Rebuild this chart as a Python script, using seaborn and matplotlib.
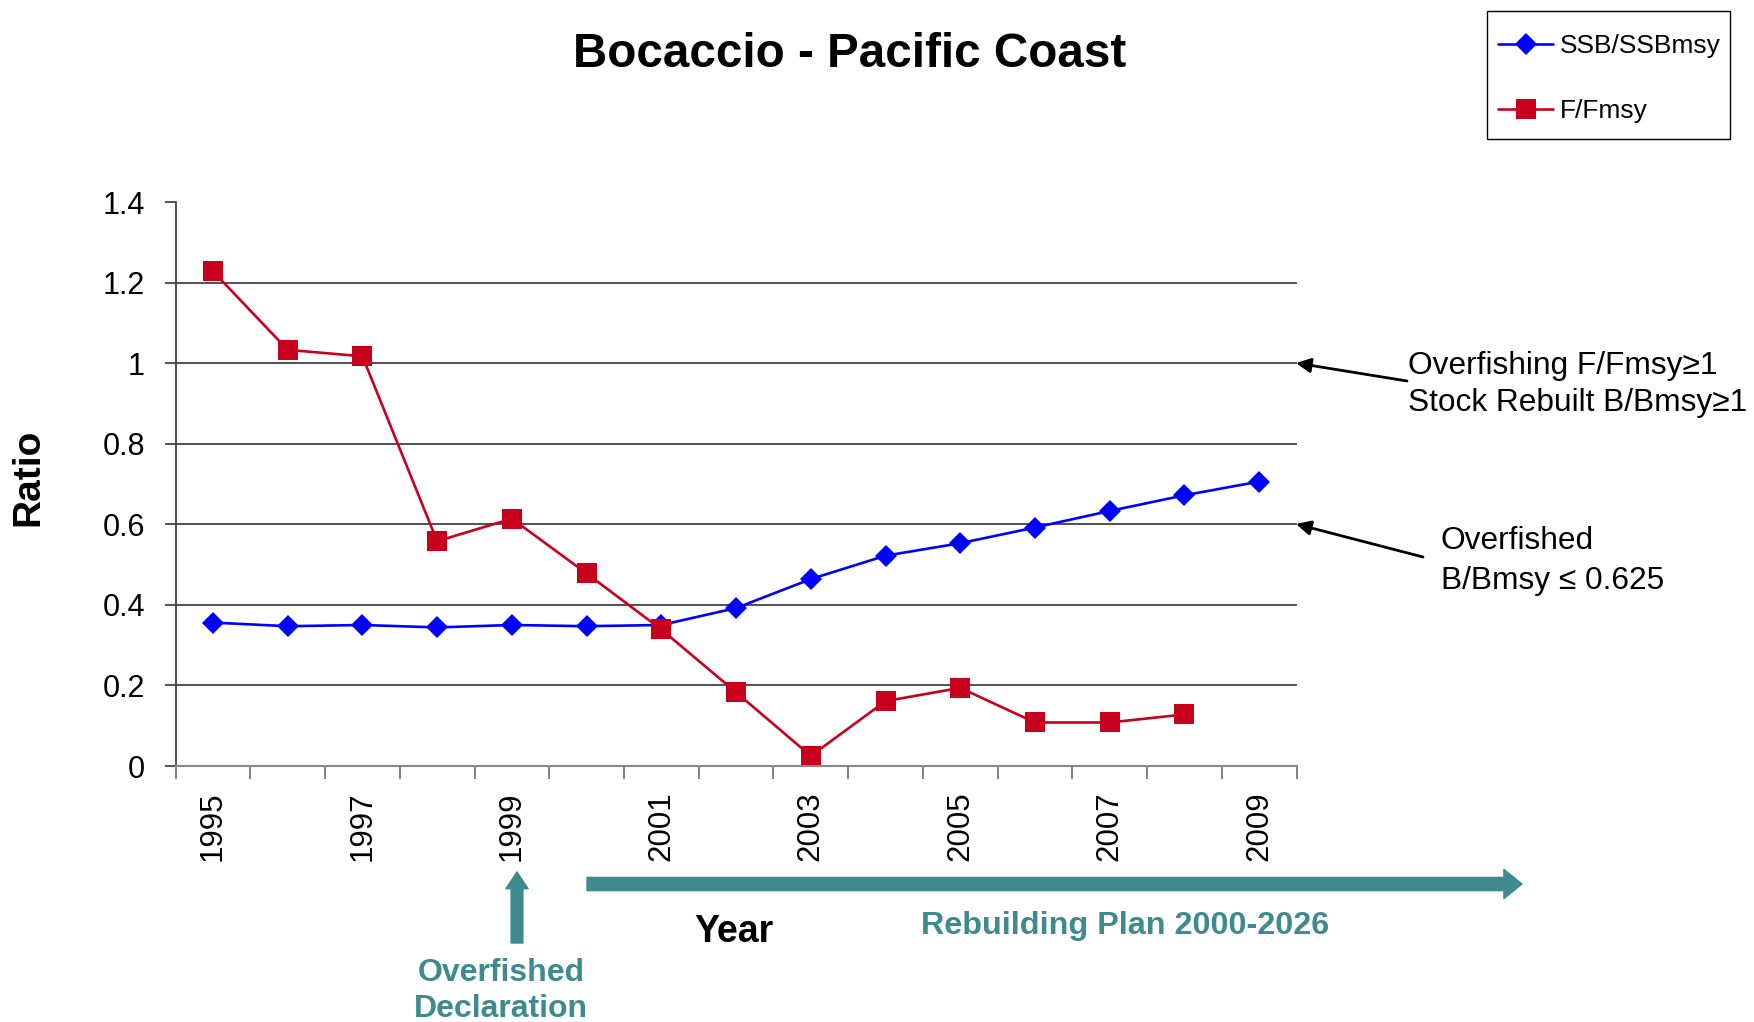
import numpy as np
import pandas as pd
import matplotlib
matplotlib.use("Agg")
import matplotlib.pyplot as plt
import matplotlib.patches as mpatches
import seaborn as sns

# ---------------- data ----------------
years = list(range(1995, 2010))
ssb_ratio = [0.356, 0.347, 0.350, 0.344, 0.350, 0.347, 0.350, 0.392, 0.464,
             0.522, 0.553, 0.592, 0.633, 0.672, 0.706]
f_ratio = [1.228, 1.033, 1.017, 0.558, 0.614, 0.478, 0.339, 0.183, 0.025,
           0.161, 0.194, 0.108, 0.108, 0.128, np.nan]
series_names = ["SSB/SSBmsy", "F/Fmsy"]
y_ticks = [0, 0.2, 0.4, 0.6, 0.8, 1.0, 1.2, 1.4]
y_tick_labels = ["0", "0.2", "0.4", "0.6", "0.8", "1", "1.2", "1.4"]
x_label_years = [str(y) for y in years[::2]]

# ---------------- style ----------------
sns.set_theme(style="white")
plt.rcParams["font.family"] = ["Liberation Sans", "DejaVu Sans"]
plt.rcParams["text.color"] = "black"
plt.rcParams["axes.labelcolor"] = "black"
plt.rcParams["xtick.color"] = "black"
plt.rcParams["ytick.color"] = "black"

W, H = 1754, 1022
def fx(x):
    return x / W
def fy(y):
    return 1 - y / H

teal = "#3F8A8E"
colors = {"SSB/SSBmsy": "#0000FF", "F/Fmsy": "#C8001E"}
markers = {"SSB/SSBmsy": "D", "F/Fmsy": "s"}

fig = plt.figure(figsize=(W / 100, H / 100), dpi=100)
ax = fig.add_axes([fx(175.6), fy(766), (1296.5 - 175.6) / W, (766 - 202) / H])

pos = list(range(len(years)))
df = pd.DataFrame({
    "pos": pos * 2,
    "value": ssb_ratio + f_ratio,
    "series": [series_names[0]] * len(years) + [series_names[1]] * len(years),
}).dropna()

sns.lineplot(data=df, x="pos", y="value", hue="series", style="series",
             hue_order=series_names, style_order=series_names,
             palette=colors, markers=markers, dashes=False,
             linewidth=1.9, markeredgewidth=0, ax=ax)

sizes = {"D": 11.5, "s": 14}
for line in ax.lines:
    m = line.get_marker()
    if m in sizes:
        line.set_markersize(sizes[m])

handles, labels = ax.get_legend_handles_labels()
if ax.get_legend() is not None:
    ax.get_legend().remove()
for h in handles:
    m = h.get_marker()
    if m in sizes:
        h.set_markersize(sizes[m])
        h.set_markeredgewidth(0)
    h.set_linewidth(1.9)

# axes
ax.set_xlim(-0.5, len(years) - 0.5)
ax.set_ylim(0, 1.4)
ax.set_xlabel("")
ax.set_ylabel("")
ax.set_xticks(pos[::2])
ax.set_xticklabels(x_label_years, rotation=90, fontsize=22.5)
ax.set_xticks(np.arange(-0.5, len(years), 1), minor=True)
ax.tick_params(axis="x", which="major", bottom=True, length=0, pad=18,
               labelcolor="black")
ax.tick_params(axis="x", which="minor", bottom=True, length=9, width=1.3,
               color="#777777", direction="out")
ax.set_yticks(y_ticks)
ax.set_yticklabels(y_tick_labels, fontsize=22)
ax.tick_params(axis="y", left=True, length=8, width=1.3, color="#444444",
               pad=14, direction="out", labelcolor="black")
ax.yaxis.grid(True, color="#333333", linewidth=1.2)
ax.xaxis.grid(False)
gl = ax.get_ygridlines()
gl[0].set_visible(False)
gl[-1].set_visible(False)
ax.set_axisbelow(True)
for s in ["top", "right"]:
    ax.spines[s].set_visible(False)
ax.spines["left"].set_color("#444444")
ax.spines["left"].set_linewidth(1.3)
ax.spines["bottom"].set_color("#888888")
ax.spines["bottom"].set_linewidth(1.5)

# legend (entries without frame, frame drawn as a separate box)
leg = fig.legend(handles, labels, loc="upper left",
                 bbox_to_anchor=(fx(1498), fy(34)), fontsize=19,
                 frameon=False, handlelength=2.1, handletextpad=0.25,
                 labelspacing=1.55, borderpad=0, borderaxespad=0)
for t in leg.get_texts():
    t.set_color("black")
fig.add_artist(mpatches.Rectangle((fx(1487), fy(139)), (1730 - 1487) / W,
                                  (139 - 11) / H, transform=fig.transFigure,
                                  fill=False, edgecolor="black", linewidth=1.0))

# titles / labels
fig.text(fx(850), fy(54), "Bocaccio - Pacific Coast", fontsize=34.3,
         fontweight="bold", ha="center", va="center")
fig.text(fx(28), fy(477), "Ratio", fontsize=28, fontweight="bold",
         rotation=90, ha="center", va="center")
fig.text(fx(734), fy(932), "Year", fontsize=27, fontweight="bold",
         ha="center", va="center")

# reference annotations
fig.text(fx(1408), fy(366), "Overfishing F/Fmsy\u22651", fontsize=22.8,
         ha="left", va="center")
fig.text(fx(1408), fy(403), "Stock Rebuilt B/Bmsy\u22651", fontsize=22.8,
         ha="left", va="center")
fig.text(fx(1441), fy(541), "Overfished", fontsize=22.8, ha="left",
         va="center")
fig.text(fx(1441), fy(581), "B/Bmsy \u2264 0.625", fontsize=22.8,
         ha="left", va="center")

black_arrow = dict(arrowstyle="-|>", color="black", lw=2,
                   mutation_scale=22, shrinkA=0, shrinkB=0)
ax.annotate("", xy=(fx(1296), fy(363)), xytext=(fx(1407), fy(381)),
            xycoords="figure fraction", textcoords="figure fraction",
            arrowprops=black_arrow, annotation_clip=False)
ax.annotate("", xy=(fx(1296), fy(524)), xytext=(fx(1423), fy(557)),
            xycoords="figure fraction", textcoords="figure fraction",
            arrowprops=black_arrow, annotation_clip=False)

# teal arrows
ax.annotate("", xy=(fx(1522), fy(884)), xytext=(fx(587), fy(884)),
            xycoords="figure fraction", textcoords="figure fraction",
            arrowprops=dict(width=9.5, headwidth=21, headlength=13,
                            facecolor=teal, edgecolor=teal, shrink=0),
            annotation_clip=False)
ax.annotate("", xy=(fx(517), fy(872)), xytext=(fx(517), fy(943)),
            xycoords="figure fraction", textcoords="figure fraction",
            arrowprops=dict(width=8.5, headwidth=16, headlength=12,
                            facecolor=teal, edgecolor=teal, shrink=0),
            annotation_clip=False)

fig.text(fx(1125), fy(926), "Rebuilding Plan 2000-2026", fontsize=23.3,
         fontweight="bold", color=teal, ha="center", va="center")
fig.text(fx(501), fy(973), "Overfished", fontsize=23, fontweight="bold",
         color=teal, ha="center", va="center")
fig.text(fx(501), fy(1009), "Declaration", fontsize=23, fontweight="bold",
         color=teal, ha="center", va="center")

fig.savefig("out.png", dpi=100)
